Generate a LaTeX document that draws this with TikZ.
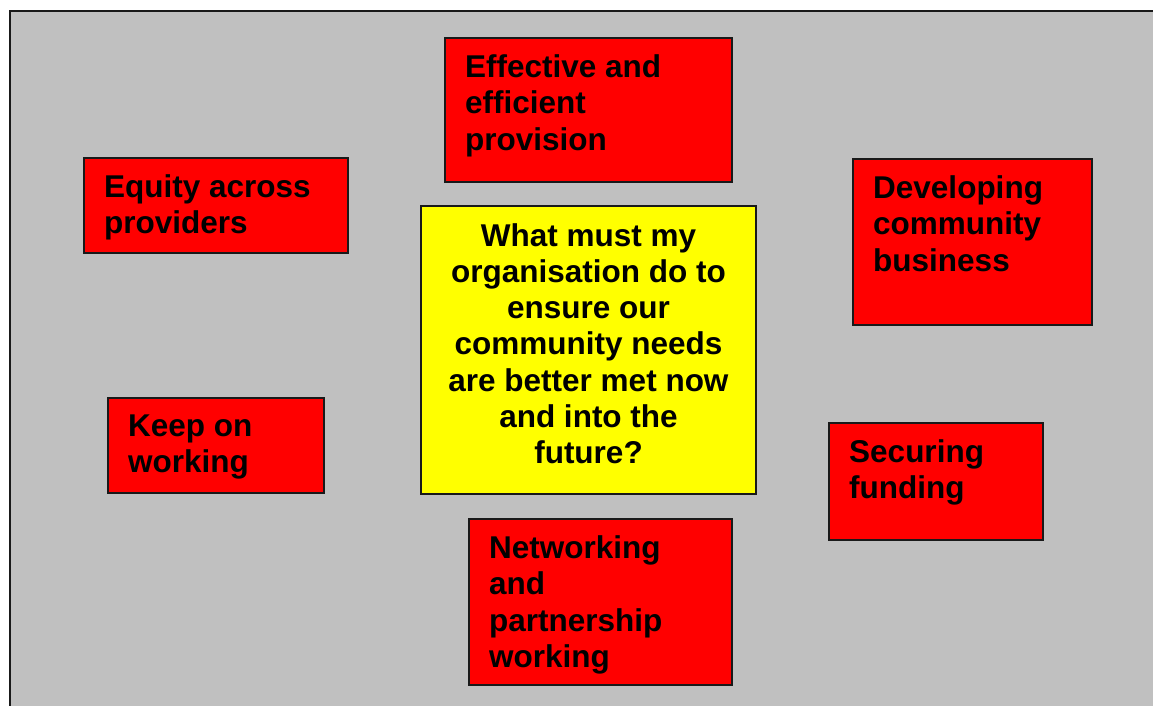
\documentclass[tikz,border=0pt]{standalone}
\usepackage{fontspec}
\setmainfont{Liberation Sans}
\definecolor{boxred}{RGB}{255,0,0}
\definecolor{boxyellow}{RGB}{255,255,0}
\definecolor{bggray}{RGB}{192,192,192}
\usetikzlibrary{positioning}

\begin{document}
\begin{tikzpicture}[
        x=1pt, y=-1pt,
        redbox/.style={rectangle, draw=black!90, line width=2pt, fill=boxred, inner sep=0pt, anchor=north west},
        qbox/.style={rectangle, draw=black!90, line width=2pt, fill=boxyellow, inner sep=0pt, anchor=north west},
        txt/.style={inner sep=0pt, align=left, font=\fontsize{31.5}{36.4}\selectfont\bfseries},
        qtxt/.style={inner sep=0pt, align=center, font=\fontsize{31.5}{36.3}\selectfont\bfseries}
    ]
        \useasboundingbox (0,0) rectangle (1153,706);
        \clip (0,0) rectangle (1153,706);
        \draw[fill=bggray, draw=black!90, line width=2pt] (10,11) rectangle (1180,730);

        \node[redbox, minimum width=287pt, minimum height=144pt] (effective) at (444,37) {};
        \node[redbox, minimum width=264pt, minimum height=95pt] (equity) at (83,157) {};
        \node[redbox, minimum width=239pt, minimum height=166pt] (developing) at (852,158) {};
        \node[qbox, minimum width=335pt, minimum height=288pt] (question) at (420,205) {};
        \node[redbox, minimum width=216pt, minimum height=95pt] (keepon) at (107,397) {};
        \node[redbox, minimum width=214pt, minimum height=117pt] (securing) at (828,422) {};
        \node[redbox, minimum width=263pt, minimum height=166pt] (networking) at (468,518) {};

        \node[txt, below right=17.5pt and 21pt of effective.north west] (effectivetxt) {Effective and\\efficient\\provision};
        \node[txt, below right=17.5pt and 21pt of equity.north west] (equitytxt) {Equity across\\providers};
        \node[txt, below right=17.5pt and 21pt of developing.north west] (developingtxt) {Developing\\community\\business};
        \node[txt, below right=17.5pt and 21pt of keepon.north west] (keepontxt) {Keep on\\working};
        \node[txt, below right=17.5pt and 21pt of securing.north west] (securingtxt) {Securing\\funding};
        \node[txt, below right=17.5pt and 21pt of networking.north west] (networkingtxt) {Networking\\and\\partnership\\working};
        \node[qtxt, below=18pt of question.north] (questiontxt) {What must my\\organisation do to\\ensure our\\community needs\\are better met now\\and into the\\future?};
    \end{tikzpicture}
\end{document}
